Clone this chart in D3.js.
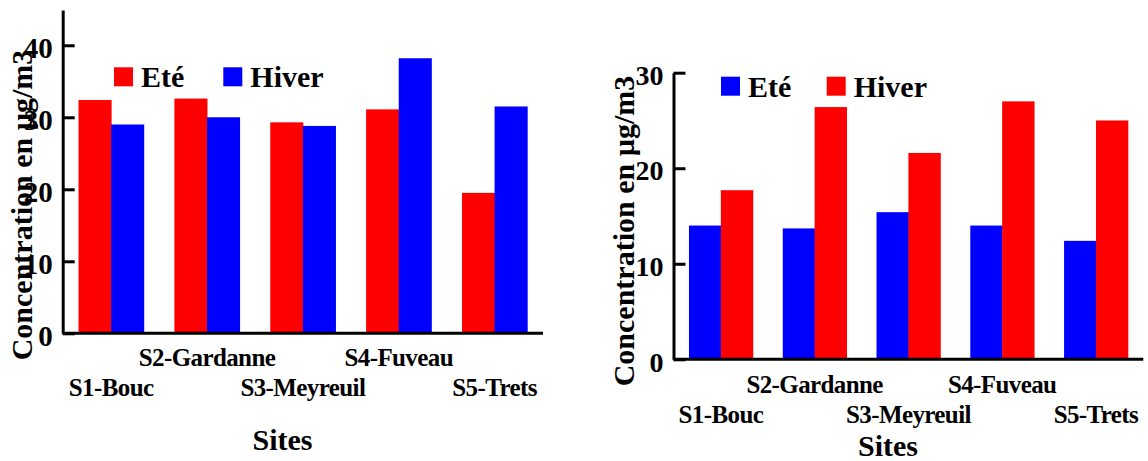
<!DOCTYPE html>
<html>
<head>
<meta charset="utf-8">
<script src="https://cdn.jsdelivr.net/npm/d3@7"></script>
<style>
  body { margin: 0; background: #fff; }
  svg text { font-family: "Liberation Serif", "DejaVu Serif", serif; font-weight: bold; fill: #000; }
</style>
</head>
<body>
<svg id="chart" width="1148" height="461"></svg>
<script>
var sites = ["S1-Bouc", "S2-Gardanne", "S3-Meyreuil", "S4-Fuveau", "S5-Trets"];
var seasons = ["Eté", "Hiver"];

// left panel
var leftEte = [32.4, 32.6, 29.3, 31.1, 19.5];
var leftHiver = [29.0, 30.0, 28.8, 38.2, 31.5];
var leftTicks = [0, 10, 20, 30, 40];

// right panel
var rightEte = [14.0, 13.7, 15.4, 14.0, 12.4];
var rightHiver = [17.7, 26.4, 21.6, 27.0, 25.0];
var rightTicks = [0, 10, 20, 30];

var yTitle = "Concentration en µg/m3",
    xTitle = "Sites";

var serif = '"Liberation Serif", "DejaVu Serif", serif';

var svg = d3.select("#chart");

function drawPanel(p) {
    var g = svg.append("g");

    var x = d3.scaleBand().domain(sites)
        .range([p.x0, p.x1])
        .paddingInner(0.32)
        .paddingOuter(0.165);

    var xs = d3.scaleBand().domain(seasons).range([0, x.bandwidth()]);

    var y = d3.scaleLinear().domain([0, p.yMax]).range([p.y0, p.y1]);

    var color = d3.scaleOrdinal().domain(seasons).range(p.colors);

    var rows = sites.map(function (s, i) {
        return { site: s, values: [p.ete[i], p.hiver[i]] };
    });

    g.selectAll(".site")
        .data(rows)
        .enter().append("g")
        .attr("transform", d => "translate(" + x(d.site) + ",0)")
        .selectAll("rect")
        .data(d => d.values.map((v, j) => ({ season: seasons[j], v: v })))
        .enter().append("rect")
        .attr("x", d => xs(d.season))
        .attr("width", xs.bandwidth() + 0.5)
        .attr("y", d => y(d.v))
        .attr("height", d => y(0) - y(d.v))
        .attr("fill", d => color(d.season));

    // y axis, ticks pointing inward
    var yAxis = g.append("g")
        .attr("transform", "translate(" + p.x0 + ",0)")
        .call(d3.axisLeft(y).tickValues(p.ticks).tickSizeInner(-12).tickSizeOuter(0).tickPadding(10));
    yAxis.attr("font-family", serif).attr("font-size", p.tickFont);
    yAxis.selectAll("path, line").attr("stroke", "#000").attr("stroke-width", 3);
    yAxis.selectAll("text")
        .attr("dy", "0.42em")
        .attr("transform", p.tickSquash ? null : null)
        .style("font-weight", "bold");

    // x axis baseline
    g.append("line")
        .attr("x1", p.x0).attr("x2", p.x1)
        .attr("y1", y(0)).attr("y2", y(0))
        .attr("stroke", "#000").attr("stroke-width", 3);

    // staggered site labels
    g.selectAll(".lab")
        .data(sites)
        .enter().append("text")
        .attr("x", d => x(d) + x.bandwidth() / 2)
        .attr("y", (d, i) => i % 2 ? p.labRow1 : p.labRow2)
        .attr("text-anchor", "middle")
        .attr("font-size", 25)
        .attr("letter-spacing", "-0.6")
        .text(d => d);

    g.append("text")
        .attr("x", p.xTitleX)
        .attr("y", p.xTitleY)
        .attr("text-anchor", "middle")
        .attr("font-size", 30)
        .text(xTitle);

    g.append("text")
        .attr("transform", "translate(" + p.yTitleX + "," + p.yTitleY + ") rotate(-90)")
        .attr("text-anchor", "middle")
        .attr("font-size", 30)
        .text(yTitle);

    // legend
    var leg = g.selectAll(".leg")
        .data(seasons)
        .enter().append("g")
        .attr("transform", (d, i) => "translate(" + p.legX[i] + "," + p.legY + ")");
    leg.append("rect")
        .attr("width", 19).attr("height", 19)
        .attr("fill", d => color(d));
    leg.append("text")
        .attr("x", 27).attr("y", 20)
        .attr("font-size", 30)
        .text(d => d);
}

drawPanel({
    ete: leftEte, hiver: leftHiver, ticks: leftTicks,
    colors: ["#ff0000", "#0000ff"],
    x0: 62.7, x1: 543, y0: 333.3, y1: 10, yMax: 44.9,
    tickFont: 29,
    labRow1: 366, labRow2: 396,
    xTitleX: 282.5, xTitleY: 450,
    yTitleX: 32, yTitleY: 205,
    legX: [114, 223.3], legY: 67.3
});

drawPanel({
    ete: rightEte, hiver: rightHiver, ticks: rightTicks,
    colors: ["#0000ff", "#ff0000"],
    x0: 673.5, x1: 1143.3, y0: 359.3, y1: 72.7, yMax: 30,
    tickFont: 28,
    labRow1: 393, labRow2: 423,
    xTitleX: 888, xTitleY: 456,
    yTitleX: 634, yTitleY: 231,
    legX: [721, 826.7], legY: 76.7
});
</script>
</body>
</html>
